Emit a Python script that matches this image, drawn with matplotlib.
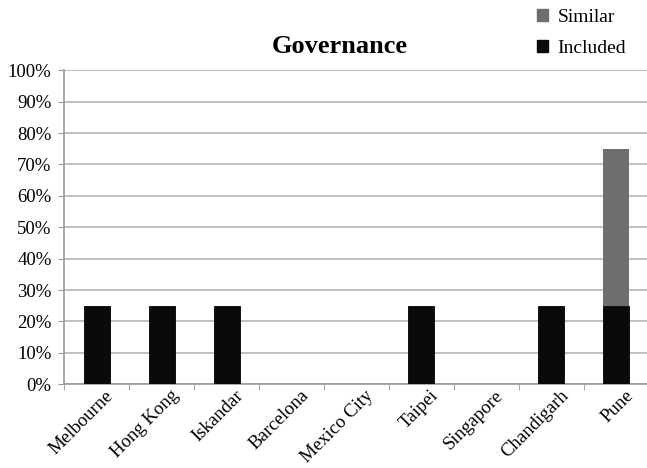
import matplotlib.pyplot as plt
from matplotlib.patches import Patch
from matplotlib.ticker import PercentFormatter
import numpy as np

cities = ['Melbourne', 'Hong Kong', 'Iskandar', 'Barcelona', 'Mexico City',
          'Taipei', 'Singapore', 'Chandigarh', 'Pune']
included = [25, 25, 25, 0, 0, 25, 0, 25, 25]
similar = [0, 0, 0, 0, 0, 0, 0, 0, 50]

plt.rcParams['font.family'] = ['Liberation Serif', 'DejaVu Serif']

fig = plt.figure(figsize=(6.47, 4.68), dpi=100)
ax = fig.add_axes([0.099, 0.179, 0.904, 0.671])

x = np.arange(len(cities))
inc_color = '#0a0a0a'
sim_color = '#6e6e6e'
ax.bar(x, included, width=0.4, color=inc_color, edgecolor='black', linewidth=0.6, zorder=3)
ax.bar(x, similar, width=0.4, bottom=included, color=sim_color, linewidth=0, zorder=3)

ax.set_ylim(0, 100)
ax.set_xlim(-0.5, len(cities) - 0.5)
ax.set_yticks(np.arange(0, 101, 10))
ax.yaxis.set_major_formatter(PercentFormatter(decimals=0))
ax.grid(axis='y', color='#b4b4b4', linewidth=1.2, zorder=0)

# labels sit a bit right of the category centre (major ticks are hidden)
ax.set_xticks(x + 0.13)
ax.set_xticklabels(cities, rotation=45, ha='right', rotation_mode='anchor', fontsize=13.5)
ax.set_xticks(np.arange(-0.5, len(cities)), minor=True)
ax.tick_params(axis='x', which='major', length=0, pad=2)
ax.tick_params(axis='x', which='minor', length=4, color='#999999')
ax.tick_params(axis='y', labelsize=13.5, length=4, color='#999999', pad=5)

for s in ['top', 'right']:
    ax.spines[s].set_visible(False)
for s in ['left', 'bottom']:
    ax.spines[s].set_color('#999999')
    ax.spines[s].set_linewidth(1.2)

fig.text(0.525, 0.9, 'Governance', ha='center', va='center', fontsize=19, fontweight='bold')

handles = [Patch(color=sim_color, label='Similar'), Patch(color=inc_color, label='Included')]
fig.legend(handles=handles, loc='upper right', bbox_to_anchor=(0.995, 1.018), frameon=False,
           fontsize=14, handlelength=0.55, handleheight=0.55, handletextpad=0.5, labelspacing=0.7)

fig.savefig('out.png', dpi=100)
